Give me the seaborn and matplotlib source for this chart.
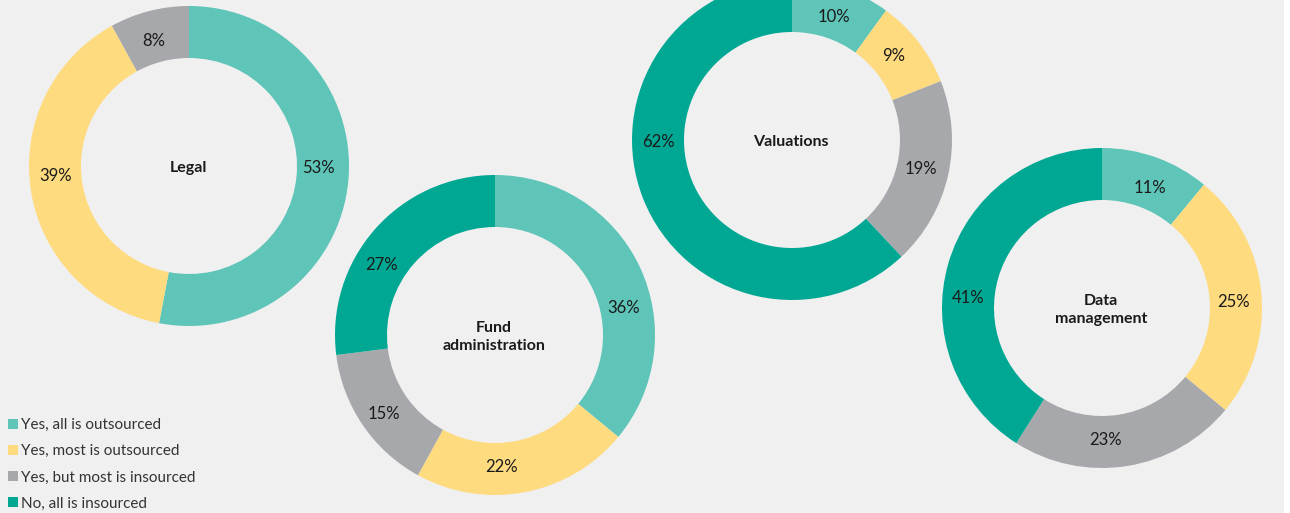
import matplotlib.pyplot as plt
import matplotlib.patches as mpatches
import seaborn as sns

# answer categories and their colours
categories = ['Yes, all is outsourced', 'Yes, most is outsourced',
              'Yes, but most is insourced', 'No, all is insourced']
colors = ['#5ec5b8', '#ffdb80', '#a7a8ab', '#00a894']

# one donut per function
donut_titles = ['Legal', 'Fund\nadministration', 'Valuations', 'Data\nmanagement']
legal = [53, 39, 8, 0]
fund_admin = [36, 22, 15, 27]
valuations = [10, 9, 19, 62]
data_mgmt = [11, 25, 23, 41]

W, H = 1290, 513
BG = '#f0f0f0'

# layout: donut centres (pixels, y from top) and hand-placed label offsets
centers = [(189, 166), (495, 335), (792, 140), (1102, 308)]
label_offsets = [
    [(129, 1), (-133, 9), (-35, -126), None],
    [(129, -28), (7, 131), (-111, 78), (-113, -71)],
    [(42, -124), (102, -85), (129, 28), (-134, 1)],
    [(48, -121), (131, -7), (3, 131), (-134, -11)],
]
radius = 160
ring = 52

sns.set_theme(style='white')
plt.rcParams['font.family'] = ['Lato', 'DejaVu Sans']

fig = plt.figure(figsize=(W / 100, H / 100), dpi=100, facecolor='white')
ax = fig.add_axes([0, 0, 1, 1])
ax.add_patch(mpatches.Rectangle((0, 0), 1284, H, facecolor=BG, edgecolor='none', zorder=0))

for title, vals, (cx, cy), offs in zip(donut_titles,
                                        [legal, fund_admin, valuations, data_mgmt],
                                        centers, label_offsets):
    keep = [i for i, v in enumerate(vals) if v > 0]
    v = [vals[i] for i in keep]
    c = [colors[i] for i in keep]
    center = (cx, H - cy)
    ax.pie(v, colors=c, startangle=90, counterclock=False, center=center,
           radius=radius, wedgeprops=dict(width=ring, linewidth=0))
    for i in keep:
        dx, dy = offs[i]
        ax.text(cx + dx, H - cy - dy - 1, f'{vals[i]}%', ha='center', va='center',
                fontsize=12, color='#1a1a1a')
    ax.text(center[0] - 1, center[1] - 2, title, ha='center', va='center',
            fontsize=11.5, fontweight='bold', color='#1a1a1a', linespacing=1.4)

ax.set_xlim(0, W)
ax.set_ylim(0, H)
ax.set_aspect('equal')
ax.axis('off')

handles = [mpatches.Patch(facecolor=col, edgecolor='none', label=lab)
           for col, lab in zip(colors, categories)]
fig.legend(handles=handles, loc='upper left', bbox_to_anchor=(8 / W, 1 - 418 / H),
           frameon=False, fontsize=11, handlelength=0.65, handleheight=0.65,
           handletextpad=0.2, labelspacing=0.8, borderpad=0, borderaxespad=0,
           labelcolor='#333333')

fig.savefig('out.png', dpi=100, facecolor='white')
